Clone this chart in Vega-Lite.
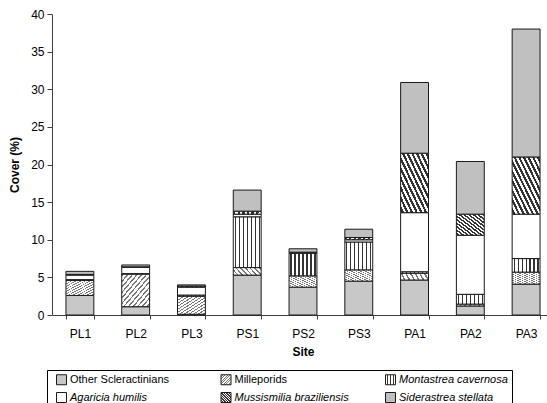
{
  "$schema": "https://vega.github.io/schema/vega-lite/v6.json",
  "width": 502,
  "height": 301,
  "autosize": "none",
  "padding": {"left": 52, "top": 14, "right": -7, "bottom": 88},
  "background": "white",
  "config": {
    "font": "Liberation Sans",
    "view": {"stroke": null},
    "axis": {
      "domainColor": "#404040",
      "tickColor": "#404040",
      "labelColor": "#000000",
      "titleColor": "#000000",
      "labelFontSize": 12,
      "titleFontSize": 12,
      "titleFontWeight": "bold",
      "grid": false
    }
  },
  "params": [
    {"name": "millFill", "expr": "{gradient:'linear',x1:0,y1:0,x2:1,y2:1,stops:[{offset:0,color:'#fff'},{offset:0.02,color:'#fff'},{offset:0.02,color:'#777'},{offset:0.049,color:'#777'},{offset:0.049,color:'#fff'},{offset:0.103,color:'#fff'},{offset:0.103,color:'#777'},{offset:0.132,color:'#777'},{offset:0.132,color:'#fff'},{offset:0.187,color:'#fff'},{offset:0.187,color:'#777'},{offset:0.216,color:'#777'},{offset:0.216,color:'#fff'},{offset:0.27,color:'#fff'},{offset:0.27,color:'#777'},{offset:0.299,color:'#777'},{offset:0.299,color:'#fff'},{offset:0.353,color:'#fff'},{offset:0.353,color:'#777'},{offset:0.382,color:'#777'},{offset:0.382,color:'#fff'},{offset:0.437,color:'#fff'},{offset:0.437,color:'#777'},{offset:0.466,color:'#777'},{offset:0.466,color:'#fff'},{offset:0.52,color:'#fff'},{offset:0.52,color:'#777'},{offset:0.549,color:'#777'},{offset:0.549,color:'#fff'},{offset:0.603,color:'#fff'},{offset:0.603,color:'#777'},{offset:0.632,color:'#777'},{offset:0.632,color:'#fff'},{offset:0.687,color:'#fff'},{offset:0.687,color:'#777'},{offset:0.716,color:'#777'},{offset:0.716,color:'#fff'},{offset:0.77,color:'#fff'},{offset:0.77,color:'#777'},{offset:0.799,color:'#777'},{offset:0.799,color:'#fff'},{offset:0.853,color:'#fff'},{offset:0.853,color:'#777'},{offset:0.882,color:'#777'},{offset:0.882,color:'#fff'},{offset:0.937,color:'#fff'},{offset:0.937,color:'#777'},{offset:0.966,color:'#777'},{offset:0.966,color:'#fff'},{offset:1,color:'#fff'}]}"},
    {"name": "montFill", "expr": "{gradient:'linear',x1:0,y1:0,x2:1,y2:0,stops:[{offset:0,color:'#fff'},{offset:0.05,color:'#fff'},{offset:0.05,color:'#333'},{offset:0.095,color:'#333'},{offset:0.095,color:'#fff'},{offset:0.193,color:'#fff'},{offset:0.193,color:'#333'},{offset:0.238,color:'#333'},{offset:0.238,color:'#fff'},{offset:0.336,color:'#fff'},{offset:0.336,color:'#333'},{offset:0.381,color:'#333'},{offset:0.381,color:'#fff'},{offset:0.479,color:'#fff'},{offset:0.479,color:'#333'},{offset:0.524,color:'#333'},{offset:0.524,color:'#fff'},{offset:0.621,color:'#fff'},{offset:0.621,color:'#333'},{offset:0.666,color:'#333'},{offset:0.666,color:'#fff'},{offset:0.764,color:'#fff'},{offset:0.764,color:'#333'},{offset:0.809,color:'#333'},{offset:0.809,color:'#fff'},{offset:0.907,color:'#fff'},{offset:0.907,color:'#333'},{offset:0.952,color:'#333'},{offset:0.952,color:'#fff'},{offset:1,color:'#fff'}]}"},
    {"name": "mussFill", "expr": "{gradient:'linear',x1:0,y1:1,x2:1,y2:0,stops:[{offset:0,color:'#fff'},{offset:0.02,color:'#fff'},{offset:0.02,color:'#333'},{offset:0.062,color:'#333'},{offset:0.062,color:'#fff'},{offset:0.103,color:'#fff'},{offset:0.103,color:'#333'},{offset:0.145,color:'#333'},{offset:0.145,color:'#fff'},{offset:0.187,color:'#fff'},{offset:0.187,color:'#333'},{offset:0.229,color:'#333'},{offset:0.229,color:'#fff'},{offset:0.27,color:'#fff'},{offset:0.27,color:'#333'},{offset:0.312,color:'#333'},{offset:0.312,color:'#fff'},{offset:0.353,color:'#fff'},{offset:0.353,color:'#333'},{offset:0.395,color:'#333'},{offset:0.395,color:'#fff'},{offset:0.437,color:'#fff'},{offset:0.437,color:'#333'},{offset:0.479,color:'#333'},{offset:0.479,color:'#fff'},{offset:0.52,color:'#fff'},{offset:0.52,color:'#333'},{offset:0.562,color:'#333'},{offset:0.562,color:'#fff'},{offset:0.603,color:'#fff'},{offset:0.603,color:'#333'},{offset:0.645,color:'#333'},{offset:0.645,color:'#fff'},{offset:0.687,color:'#fff'},{offset:0.687,color:'#333'},{offset:0.729,color:'#333'},{offset:0.729,color:'#fff'},{offset:0.77,color:'#fff'},{offset:0.77,color:'#333'},{offset:0.812,color:'#333'},{offset:0.812,color:'#fff'},{offset:0.853,color:'#fff'},{offset:0.853,color:'#333'},{offset:0.895,color:'#333'},{offset:0.895,color:'#fff'},{offset:0.937,color:'#fff'},{offset:0.937,color:'#333'},{offset:0.979,color:'#333'},{offset:0.979,color:'#fff'},{offset:1,color:'#fff'}]}"}
  ],
  "data": {
    "values": [
      {"site": "PL1", "taxon": "Other Scleractinians", "cover": 2.6},
      {"site": "PL1", "taxon": "Milleporids", "cover": 2.0},
      {"site": "PL1", "taxon": "Montastrea cavernosa", "cover": 0.1},
      {"site": "PL1", "taxon": "Agaricia humilis", "cover": 0.6},
      {"site": "PL1", "taxon": "Mussismilia braziliensis", "cover": 0.1},
      {"site": "PL1", "taxon": "Siderastrea stellata", "cover": 0.4},
      {"site": "PL2", "taxon": "Other Scleractinians", "cover": 1.1},
      {"site": "PL2", "taxon": "Milleporids", "cover": 4.35},
      {"site": "PL2", "taxon": "Montastrea cavernosa", "cover": 0.05},
      {"site": "PL2", "taxon": "Agaricia humilis", "cover": 0.85},
      {"site": "PL2", "taxon": "Mussismilia braziliensis", "cover": 0.05},
      {"site": "PL2", "taxon": "Siderastrea stellata", "cover": 0.25},
      {"site": "PL3", "taxon": "Other Scleractinians", "cover": 0.1},
      {"site": "PL3", "taxon": "Milleporids", "cover": 2.4},
      {"site": "PL3", "taxon": "Montastrea cavernosa", "cover": 0.15},
      {"site": "PL3", "taxon": "Agaricia humilis", "cover": 1.05},
      {"site": "PL3", "taxon": "Mussismilia braziliensis", "cover": 0.15},
      {"site": "PL3", "taxon": "Siderastrea stellata", "cover": 0.15},
      {"site": "PS1", "taxon": "Other Scleractinians", "cover": 5.3},
      {"site": "PS1", "taxon": "Milleporids", "cover": 1.0},
      {"site": "PS1", "taxon": "Montastrea cavernosa", "cover": 6.75},
      {"site": "PS1", "taxon": "Agaricia humilis", "cover": 0.35},
      {"site": "PS1", "taxon": "Mussismilia braziliensis", "cover": 0.4},
      {"site": "PS1", "taxon": "Siderastrea stellata", "cover": 2.8},
      {"site": "PS2", "taxon": "Other Scleractinians", "cover": 3.7},
      {"site": "PS2", "taxon": "Milleporids", "cover": 1.5},
      {"site": "PS2", "taxon": "Montastrea cavernosa", "cover": 3.0},
      {"site": "PS2", "taxon": "Agaricia humilis", "cover": 0.1},
      {"site": "PS2", "taxon": "Mussismilia braziliensis", "cover": 0.05},
      {"site": "PS2", "taxon": "Siderastrea stellata", "cover": 0.45},
      {"site": "PS3", "taxon": "Other Scleractinians", "cover": 4.5},
      {"site": "PS3", "taxon": "Milleporids", "cover": 1.5},
      {"site": "PS3", "taxon": "Montastrea cavernosa", "cover": 3.7},
      {"site": "PS3", "taxon": "Agaricia humilis", "cover": 0.3},
      {"site": "PS3", "taxon": "Mussismilia braziliensis", "cover": 0.3},
      {"site": "PS3", "taxon": "Siderastrea stellata", "cover": 1.1},
      {"site": "PA1", "taxon": "Other Scleractinians", "cover": 4.65},
      {"site": "PA1", "taxon": "Milleporids", "cover": 0.9},
      {"site": "PA1", "taxon": "Montastrea cavernosa", "cover": 0.2},
      {"site": "PA1", "taxon": "Agaricia humilis", "cover": 7.85},
      {"site": "PA1", "taxon": "Mussismilia braziliensis", "cover": 7.9},
      {"site": "PA1", "taxon": "Siderastrea stellata", "cover": 9.4},
      {"site": "PA2", "taxon": "Other Scleractinians", "cover": 1.2},
      {"site": "PA2", "taxon": "Milleporids", "cover": 0.25},
      {"site": "PA2", "taxon": "Montastrea cavernosa", "cover": 1.3},
      {"site": "PA2", "taxon": "Agaricia humilis", "cover": 7.85},
      {"site": "PA2", "taxon": "Mussismilia braziliensis", "cover": 2.8},
      {"site": "PA2", "taxon": "Siderastrea stellata", "cover": 7.0},
      {"site": "PA3", "taxon": "Other Scleractinians", "cover": 4.1},
      {"site": "PA3", "taxon": "Milleporids", "cover": 1.6},
      {"site": "PA3", "taxon": "Montastrea cavernosa", "cover": 1.8},
      {"site": "PA3", "taxon": "Agaricia humilis", "cover": 5.9},
      {"site": "PA3", "taxon": "Mussismilia braziliensis", "cover": 7.6},
      {"site": "PA3", "taxon": "Siderastrea stellata", "cover": 17.0}
    ]
  },
  "transform": [
    {"calculate": "indexof(['Other Scleractinians', 'Milleporids', 'Montastrea cavernosa', 'Agaricia humilis', 'Mussismilia braziliensis', 'Siderastrea stellata'], datum.taxon)", "as": "stackRank"}
  ],
  "mark": {"type": "bar", "stroke": "#1a1a1a", "strokeWidth": 1},
  "encoding": {
    "x": {
      "field": "site",
      "type": "nominal",
      "sort": null,
      "scale": {"paddingInner": 0.5, "paddingOuter": 0.25},
      "axis": {
        "title": "Site",
        "labelAngle": 0,
        "tickBand": "extent",
        "tickSize": 4,
        "labelPadding": 9,
        "titlePadding": 7
      }
    },
    "y": {
      "field": "cover",
      "type": "quantitative",
      "stack": "zero",
      "scale": {"domain": [0, 40], "nice": false},
      "axis": {
        "title": "Cover (%)",
        "values": [0, 5, 10, 15, 20, 25, 30, 35, 40],
        "tickSize": 5,
        "labelPadding": 3,
        "titlePadding": 9
      }
    },
    "fill": {
      "field": "taxon",
      "type": "nominal",
      "sort": ["Other Scleractinians", "Milleporids", "Montastrea cavernosa", "Agaricia humilis", "Mussismilia braziliensis", "Siderastrea stellata"],
      "scale": {
        "domain": ["Other Scleractinians", "Milleporids", "Montastrea cavernosa", "Agaricia humilis", "Mussismilia braziliensis", "Siderastrea stellata"],
        "range": ["#c8c8c8", {"expr": "millFill"}, {"expr": "montFill"}, "#ffffff", {"expr": "mussFill"}, "#c0c0c0"]
      },
      "legend": {
        "title": null,
        "orient": "none",
        "legendX": -5,
        "legendY": 356,
        "direction": "horizontal",
        "columns": 3,
        "gridAlign": "all",
        "columnPadding": 30.5,
        "rowPadding": 3,
        "padding": 4,
        "strokeColor": "#000000",
        "symbolType": "square",
        "symbolSize": 100,
        "symbolStrokeColor": "#1a1a1a",
        "symbolStrokeWidth": 1,
        "symbolOffset": 5,
        "labelFontSize": 11,
        "labelColor": "#000000",
        "labelOffset": 3,
        "labelLimit": 200,
        "labelFontStyle": {"expr": "datum.label == 'Other Scleractinians' || datum.label == 'Milleporids' ? 'normal' : 'italic'"}
      }
    },
    "order": {"field": "stackRank", "type": "quantitative", "sort": "ascending"}
  }
}
